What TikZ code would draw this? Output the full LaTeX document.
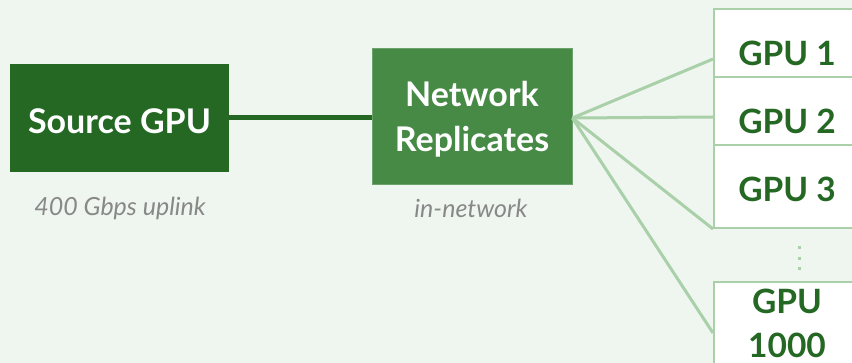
\documentclass[tikz,border=0pt]{standalone}
\usepackage{fontspec}
\setmainfont{Lato}
\usetikzlibrary{calc}
\definecolor{bgc}{HTML}{EFF6EF}
\definecolor{darkg}{HTML}{246824}
\definecolor{midg}{HTML}{468A46}
\definecolor{lightg}{HTML}{A9D0A9}
\definecolor{labg}{HTML}{888888}
\tikzset{
  srcbox/.style={fill=darkg, draw=none, text=white, font=\bfseries\fontsize{34}{45}\selectfont, inner sep=0pt, align=center, text height=31pt, text depth=0pt},
  netbox/.style={fill=midg, draw=midg!80!white, line width=0.8pt, text=white, font=\bfseries\fontsize{34}{45}\selectfont, inner sep=0pt, align=center, text height=80pt, text depth=8pt},
  gpubox/.style={fill=white, draw=lightg, line width=2pt, text=darkg, font=\bfseries\fontsize{33.5}{44}\selectfont, inner sep=0pt, align=center, minimum width=146pt, minimum height=83pt},
  gpuone/.style={gpubox, text height=30pt, text depth=0pt},
  lab/.style={text=labg, font=\itshape\fontsize{25}{28}\selectfont},
  fan/.style={draw=lightg, line width=3pt},
  mainlink/.style={draw=darkg, line width=5pt}
}
\begin{document}
\begin{tikzpicture}[x=1pt,y=-1pt]
\useasboundingbox (0,0) rectangle (852,363);
\fill[bgc] (0,0) rectangle (852,363);
\clip (0,0) rectangle (852,363);
\node[srcbox, minimum width=219pt, minimum height=108pt] (src) at (119.5,118) {Source GPU};
\node[netbox, minimum width=200pt, minimum height=136pt] (net) at (472,116) {Network\\Replicates};
\node[lab] (srclab) at (120,208) {400 Gbps uplink};
\node[lab] (netlab) at (471,208) {in-network};
\node[gpuone] (g1) at (787,50.5) {GPU 1};
\node[gpuone] (g2) at (787,118.5) {GPU 2};
\node[gpuone] (g3) at (787,186.5) {GPU 3};
\node[gpubox] (g4) at (787,323.5) {GPU\\1000};
\coordinate (hub) at ([yshift=-2pt]net.east);
\draw[fan] (hub) -- ([yshift=-8.5pt]g1.west);
\draw[fan] (hub) -- ([yshift=1.5pt]g2.west);
\draw[fan] (hub) -- (g3.south west);
\draw[fan] (hub) -- ([yshift=-9.5pt]g4.west);
\draw[mainlink] (src.east) -- (src.east -| net.west);
\draw[draw=lightg, line width=3pt, dash pattern=on 3pt off 7.5pt] (799,246.5) -- (799,273);
\end{tikzpicture}
\end{document}
